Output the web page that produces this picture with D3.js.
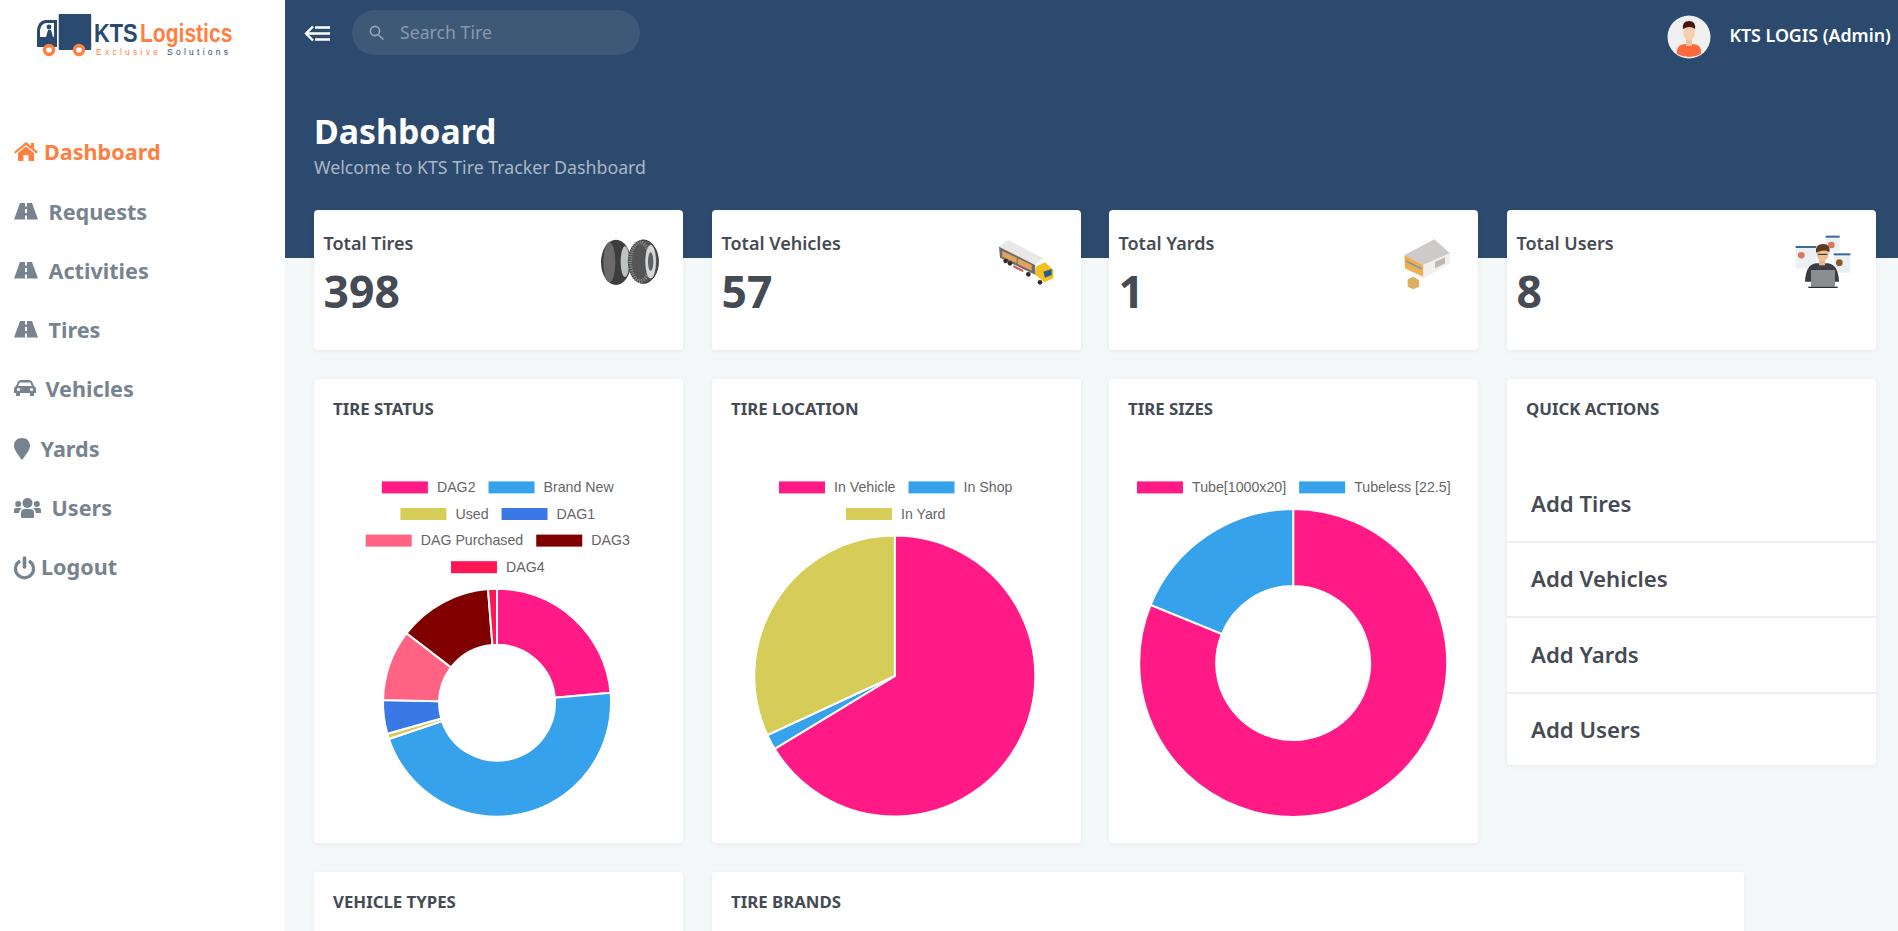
<!DOCTYPE html>
<html>
<head>
<meta charset="utf-8">
<title>KTS Tire Tracker Dashboard</title>
<script src="https://cdn.jsdelivr.net/npm/d3@7/dist/d3.min.js"></script>
<style>
  html, body { margin: 0; padding: 0; background: #f4f7f8; overflow: hidden; }
  svg { display: block; font-family: "Noto Sans", "Open Sans", sans-serif; }
  .card { fill: #fff; filter: drop-shadow(0 1px 2px rgba(0,0,0,.05)); }
  .legend text { font-family: "Liberation Sans", Arial, sans-serif; font-size: 14.2px; fill: #666; }
  .logo text { font-family: "Liberation Sans", Arial, sans-serif; }
</style>
</head>
<body>
<svg id="page" width="1898" height="931"></svg>
<script>
//Data
const navLabels = ['Dashboard', 'Requests', 'Activities', 'Tires', 'Vehicles', 'Yards', 'Users', 'Logout'];
const statTitles = ['Total Tires', 'Total Vehicles', 'Total Yards', 'Total Users'];
const statValues = [398, 57, 1, 8];
const quickActions = ['Add Tires', 'Add Vehicles', 'Add Yards', 'Add Users'];

const statusLabels = ['DAG2', 'Brand New', 'Used', 'DAG1', 'DAG Purchased', 'DAG3', 'DAG4'];
const statusValues = [94, 184, 3, 19, 40, 53, 5];
const statusColors = ['#ff1a85', '#36a2eb', '#d6cd58', '#3a78e6', '#ff6384', '#800000', '#ff1654'];

const locationLabels = ['In Vehicle', 'In Shop', 'In Yard'];
const locationValues = [264, 7, 127];
const locationColors = ['#ff1a85', '#36a2eb', '#d6cd58'];

const sizeLabels = ['Tube[1000x20]', 'Tubeless [22.5]'];
const sizeValues = [323, 75];
const sizeColors = ['#ff1a85', '#36a2eb'];

//Page colours
const NAVY = '#2c4a6e', INK = '#454b54', GREY = '#77848f', ORANGE = '#ff7f41';

const svg = d3.select('#page');

const txt = (parent, x, y, s, size, weight, fill, extra = {}) => {
  const t = parent.append('text').attr('x', x).attr('y', y).text(s)
    .attr('font-size', size).attr('font-weight', weight).attr('fill', fill);
  Object.entries(extra).forEach(([k, v]) => t.attr(k, v));
  return t;
};

const card = (x, y, w, h) =>
  svg.append('rect').attr('class', 'card').attr('x', x).attr('y', y)
    .attr('width', w).attr('height', h).attr('rx', 4);

//Backdrop
svg.append('rect').attr('width', 1898).attr('height', 931).attr('fill', '#f4f7f8');
svg.append('rect').attr('x', 285).attr('width', 1613).attr('height', 258).attr('fill', NAVY);
svg.append('rect').attr('width', 285).attr('height', 931).attr('fill', '#fff');

//Logo
const logo = svg.append('g').attr('class', 'logo');
logo.append('rect').attr('x', 58.7).attr('y', 14).attr('width', 32.5).attr('height', 36).attr('rx', 1).attr('fill', '#2b4a70');
logo.append('path').attr('d', 'M37 47 V30 Q38 21 45 20 H57 V47 Z').attr('fill', '#2b4a70');
logo.append('path').attr('d', 'M40 37 V30 Q41 24 46 23 H54 V37 Z').attr('fill', '#fff');
logo.append('circle').attr('cx', 49).attr('cy', 27).attr('r', 2.4).attr('fill', '#2b4a70');
logo.append('path').attr('d', 'M46 37 L48 30 H51 L53 37 Z').attr('fill', '#2b4a70');
[49, 79].forEach(cx => {
  logo.append('circle').attr('cx', cx).attr('cy', 50).attr('r', 4.5).attr('fill', '#fff').attr('stroke', ORANGE).attr('stroke-width', 3.4);
});
// squeezed sideways with a transform so each word keeps its own box
txt(logo.append('g').attr('transform', 'translate(94,42) scale(0.84,1)'), 0, 0, 'KTS', 26, 700, '#2b4a70');
txt(logo.append('g').attr('transform', 'translate(140,42) scale(0.81,1)'), 0, 0, 'Logistics', 26, 700, ORANGE);
txt(logo, 96, 55, 'Exclusive', 8.5, 400, ORANGE, { textLength: 62 });
txt(logo, 167, 55, 'Solutions', 8.5, 400, '#2b4a70', { textLength: 61 });

//Sidebar icons, each in its own 0,0 origin
const iconHome = (g, c) => {
  g.append('path').attr('fill', c).attr('d', 'M12 0 L17 4 V1 H20 V6.5 L24 10 L22.5 11.5 L12 3 L1.5 11.5 L0 10 Z');
  g.append('path').attr('fill', c).attr('d', 'M4 11 L12 4.5 L20 11 V19 H14.5 V13 H9.5 V19 H4 Z');
};
const iconRoad = (g, c) => {
  g.append('path').attr('fill', c).attr('d', 'M6 0 H18 L24 16.5 H0 Z');
  [[0, 3.5], [6, 4], [12.5, 4]].forEach(([y, h]) => {
    g.append('rect').attr('x', 11).attr('y', y).attr('width', 2).attr('height', h).attr('fill', '#fff');
  });
};
const iconCar = (g, c) => {
  g.append('path').attr('fill', c).attr('d', 'M4 1.5 Q5 0 7 0 H15 Q17 0 18 1.5 L20 6 Q22 7 22 9 V13 H20 V16 H16 V13 H6 V16 H2 V13 H0 V9 Q0 7 2 6 Z M5.5 2.5 L4.2 6 H17.8 L16.5 2.5 Z');
  g.append('circle').attr('cx', 4.5).attr('cy', 9.5).attr('r', 1.6).attr('fill', '#fff');
  g.append('circle').attr('cx', 17.5).attr('cy', 9.5).attr('r', 1.6).attr('fill', '#fff');
};
const iconMarker = (g, c) => {
  g.append('path').attr('fill', c).attr('d', 'M8 0 C13 0 16 3.5 16 8 C16 12 11 18 8 22 C5 18 0 12 0 8 C0 3.5 3 0 8 0 Z');
};
const iconUsers = (g, c) => {
  g.append('circle').attr('cx', 13.5).attr('cy', 5).attr('r', 5).attr('fill', c);
  g.append('circle').attr('cx', 4.2).attr('cy', 6).attr('r', 3).attr('fill', c);
  g.append('circle').attr('cx', 22.8).attr('cy', 6).attr('r', 3).attr('fill', c);
  g.append('path').attr('fill', c).attr('d', 'M7 19 V15 Q7 11 11 11 H16 Q20 11 20 15 V19 Q20 20 19 20 H8 Q7 20 7 19 Z');
  g.append('path').attr('fill', c).attr('d', 'M0 15 V12 Q0 10 2 10 H6 Q7 10 7.5 10.5 Q5 12 5 15 Z M27 15 V12 Q27 10 25 10 H21 Q20 10 19.5 10.5 Q22 12 22 15 Z');
};
const iconPower = (g, c) => {
  g.append('path').attr('fill', 'none').attr('stroke', c).attr('stroke-width', 3.2)
    .attr('d', 'M6 5 A9 9 0 1 0 15 5');
  g.append('path').attr('stroke', c).attr('stroke-width', 3.6).attr('stroke-linecap', 'round').attr('d', 'M10.5 2 V11');
};

const navIcons = [iconHome, iconRoad, iconRoad, iconRoad, iconCar, iconMarker, iconUsers, iconPower];
const navIconY = [142, 203, 262, 321, 380, 438, 498, 556];
const navTextX = [44, 48.5, 48.5, 48.5, 45.5, 40.5, 51.5, 41];
const navTextY = [160, 220, 279, 338, 397, 457, 516, 575];

navLabels.forEach((label, i) => {
  const c = i === 0 ? ORANGE : GREY;
  navIcons[i](svg.append('g').attr('transform', `translate(14,${navIconY[i]})`), c);
  txt(svg, navTextX[i], navTextY[i], label, 21.6, 700, c);
});

//Top bar
const back = svg.append('g').attr('stroke', '#fff').attr('stroke-width', 2.4).attr('fill', 'none');
back.append('path').attr('d', 'M313 26.5 L306 33.5 L313 40.5');
back.append('path').attr('d', 'M307 33.5 H330 M315 27.5 H330 M315 39.5 H330');
svg.append('rect').attr('x', 352).attr('y', 10).attr('width', 288).attr('height', 45).attr('rx', 22.5).attr('fill', '#3e5878');
const lens = svg.append('g').attr('stroke', '#9aa7b8').attr('stroke-width', 1.6).attr('fill', 'none');
lens.append('circle').attr('cx', 375).attr('cy', 31).attr('r', 4.6);
lens.append('path').attr('d', 'M378.5 35 L383.5 39.5');
txt(svg, 400, 38.5, 'Search Tire', 17.7, 400, '#8a98aa');

svg.append('circle').attr('cx', 1689).attr('cy', 37).attr('r', 21.5).attr('fill', '#f0f0f0');
svg.append('path').attr('d', 'M1677 54 Q1676 44 1685 44 H1693 Q1702 44 1701 54 Q1689 60 1677 54 Z').attr('fill', '#ff6a3d');
svg.append('rect').attr('x', 1686).attr('y', 37).attr('width', 6).attr('height', 9).attr('fill', '#f2c19c');
svg.append('ellipse').attr('cx', 1689).attr('cy', 32).attr('rx', 6).attr('ry', 8).attr('fill', '#f6cfae');
svg.append('path').attr('d', 'M1683 29 Q1682 21 1689 21 Q1696 21 1695 29 Q1690 25 1683 29 Z').attr('fill', '#4a130e');
txt(svg, 1729.5, 42, 'KTS LOGIS (Admin)', 17.8, 600, '#fff');

//Page heading
txt(svg, 314, 143.5, 'Dashboard', 33.8, 700, '#fff');
txt(svg, 314, 174, 'Welcome to KTS Tire Tracker Dashboard', 17.75, 400, '#aab7c6');

//Stat cards
const statX = [314, 712, 1109, 1507];
statTitles.forEach((title, i) => {
  card(statX[i], 210, 369, 140);
  txt(svg, statX[i] + 9.5, 250, title, 18, 600, INK);
  txt(svg, statX[i] + 9.5, 308, statValues[i], 44.5, 700, INK);
});

//Stat pictures
const tires = svg.append('g').attr('transform', 'translate(590,230) scale(0.3333)');
tires.append('ellipse').attr('cx', 78).attr('cy', 97).attr('rx', 45).attr('ry', 68).attr('fill', '#3d3d3d');
tires.append('ellipse').attr('cx', 58).attr('cy', 97).attr('rx', 18).attr('ry', 60).attr('fill', '#6a6a6a');
tires.append('ellipse').attr('cx', 105).attr('cy', 95).attr('rx', 13).attr('ry', 46).attr('fill', '#bfc2c3');
tires.append('ellipse').attr('cx', 160).attr('cy', 95).attr('rx', 45).attr('ry', 65).attr('fill', '#555')
  .attr('stroke', '#2e2e2e').attr('stroke-width', 3);
tires.append('ellipse').attr('cx', 150).attr('cy', 95).attr('rx', 30).attr('ry', 58).attr('fill', 'none')
  .attr('stroke', '#8d8d8d').attr('stroke-width', 12).attr('stroke-dasharray', '3 4');
tires.append('ellipse').attr('cx', 182).attr('cy', 95).attr('rx', 16).attr('ry', 50).attr('fill', '#d5d7d8');
tires.append('ellipse').attr('cx', 182).attr('cy', 95).attr('rx', 8).attr('ry', 28).attr('fill', '#5f6163');

const truck = svg.append('g').attr('transform', 'translate(985,225) scale(0.3333)');
truck.append('polygon').attr('points', '70,45 175,100 150,120 42,65').attr('fill', '#e8e8e6');
truck.append('polygon').attr('points', '42,65 150,120 152,150 45,98').attr('fill', '#6f6b68');
truck.append('polygon').attr('points', '52,78 95,98 95,115 52,95').attr('fill', '#e3a35c');
truck.append('polygon').attr('points', '98,100 140,120 140,137 98,117').attr('fill', '#e3a35c');
truck.append('polygon').attr('points', '152,125 180,112 205,135 205,160 178,172 152,150').attr('fill', '#f5bf22');
truck.append('polygon').attr('points', '175,140 200,132 200,150 180,158').attr('fill', '#1d5f9a');
[[62, 108], [75, 115], [130, 148], [165, 172]].forEach(([cx, cy]) => {
  truck.append('circle').attr('cx', cx).attr('cy', cy).attr('r', 7).attr('fill', '#2d2d2d');
});
truck.append('polygon').attr('points', '85,120 115,135 115,142 85,127').attr('fill', '#d9534f');

const yard = svg.append('g').attr('transform', 'translate(1385,230) scale(0.3333)');
yard.append('polygon').attr('points', '40,108 115,145 195,100 180,90 60,120').attr('fill', '#ececec');
yard.append('polygon').attr('points', '148,28 195,70 115,105 58,75').attr('fill', '#cfcaca');
yard.append('polygon').attr('points', '58,75 115,105 115,140 60,115').attr('fill', '#eeb04e');
yard.append('polygon').attr('points', '115,105 195,70 195,100 115,140').attr('fill', '#f3efe9');
yard.append('polygon').attr('points', '64,90 110,113 110,120 64,97').attr('fill', '#8a9aa8');
yard.append('polygon').attr('points', '150,95 180,82 180,100 150,115').attr('fill', '#bdb9b2');
yard.append('polygon').attr('points', '68,148 85,140 102,150 102,170 85,178 68,170').attr('fill', '#dcae60');

const people = svg.append('g').attr('transform', 'translate(1785,230) scale(0.3333)');
[[32, 48, 62, 68], [122, 17, 42, 48], [146, 70, 50, 58]].forEach(([x, y, w, h]) => {
  people.append('rect').attr('x', x).attr('y', y).attr('width', w).attr('height', h).attr('fill', '#edf0f3');
  people.append('rect').attr('x', x).attr('y', y).attr('width', w).attr('height', 6).attr('fill', '#3a6a96');
  people.append('circle').attr('cx', x + 17).attr('cy', y + 28).attr('r', 10).attr('fill', x === 146 ? '#8a5a2b' : '#d9775f');
});
people.append('path').attr('d', 'M60 155 Q62 105 92 100 H130 Q160 105 162 155 Z').attr('fill', '#3a3d44');
people.append('rect').attr('x', 102).attr('y', 82).attr('width', 18).attr('height', 24).attr('fill', '#e9b48f');
people.append('ellipse').attr('cx', 113).attr('cy', 72).attr('rx', 18).attr('ry', 21).attr('fill', '#efbd98');
people.append('path').attr('d', 'M93 68 Q90 42 114 42 Q138 42 133 68 Q125 55 93 68 Z').attr('fill', '#5e3a1c');
people.append('path').attr('d', 'M99 73 H127').attr('stroke', '#222').attr('stroke-width', 3);
people.append('rect').attr('x', 78).attr('y', 120).attr('width', 72).attr('height', 50).attr('rx', 2).attr('fill', '#8b8d90');
people.append('rect').attr('x', 70).attr('y', 170).attr('width', 88).attr('height', 4).attr('fill', '#2c2c2c');

//Panels
[[314, 'TIRE STATUS', 464], [712, 'TIRE LOCATION', 464], [1109, 'TIRE SIZES', 464], [1507, 'QUICK ACTIONS', 386]].forEach(([x, title, h]) => {
  card(x, 379, 369, h);
  txt(svg, x + 19, 415, title, 16.8, 700, INK);
});
[[314, 'VEHICLE TYPES', 369], [712, 'TIRE BRANDS', 1032]].forEach(([x, title, w]) => {
  card(x, 872, w, 80);
  txt(svg, x + 19, 908, title, 16.8, 700, INK);
});

//Quick actions
const actionY = [512, 587, 663, 738];
quickActions.forEach((label, i) => {
  txt(svg, 1531, actionY[i], label, 22.2, 600, INK);
  if (i < 3) {
    svg.append('line').attr('x1', 1507).attr('x2', 1876).attr('y1', actionY[i] + 30).attr('y2', actionY[i] + 30)
      .attr('stroke', '#e6e9eb').attr('stroke-width', 1.4);
  }
});

//Charts
const BOX_W = 46, BOX_H = 12, BOX_GAP = 9, ITEM_GAP = 13, ROW_H = 26.6, WRAP_W = 320;

const drawLegend = (labels, colors, cx, topY) => {
  const g = svg.append('g').attr('class', 'legend');
  const items = labels.map((label, i) => {
    const item = g.append('g');
    item.append('rect').attr('width', BOX_W).attr('height', BOX_H).attr('fill', colors[i]);
    const t = item.append('text').attr('x', BOX_W + BOX_GAP).attr('y', 10.6).text(label);
    return { item, w: BOX_W + BOX_GAP + t.node().getComputedTextLength() };
  });
  // wrap the way the original legend does, then centre each row
  const rows = [[]];
  let used = 0;
  items.forEach(it => {
    if (used + it.w > WRAP_W && rows[rows.length - 1].length) { rows.push([]); used = 0; }
    rows[rows.length - 1].push(it);
    used += it.w + ITEM_GAP;
  });
  rows.forEach((row, r) => {
    const total = d3.sum(row, d => d.w) + ITEM_GAP * (row.length - 1);
    let x = cx - total / 2;
    row.forEach(it => {
      it.item.attr('transform', `translate(${x},${topY + r * ROW_H})`);
      x += it.w + ITEM_GAP;
    });
  });
};

const drawPie = (values, colors, cx, cy, outer, inner) => {
  const arcs = d3.pie().sort(null)(values);
  const arc = d3.arc().innerRadius(inner).outerRadius(outer);
  svg.append('g').attr('transform', `translate(${cx},${cy})`)
    .selectAll('path').data(arcs).join('path')
    .attr('d', arc)
    .attr('fill', (d, i) => colors[i])
    .attr('stroke', '#fff').attr('stroke-width', 2);
};

drawLegend(statusLabels, statusColors, 497.8, 481.4);
drawPie(statusValues, statusColors, 497, 702.7, 114, 58);

drawLegend(locationLabels, locationColors, 895.7, 481.4);
drawPie(locationValues, locationColors, 894.8, 676, 140.5, 0);

drawLegend(sizeLabels, sizeColors, 1293.8, 481.4);
drawPie(sizeValues, sizeColors, 1293.2, 663, 154, 77);
</script>
</body>
</html>
